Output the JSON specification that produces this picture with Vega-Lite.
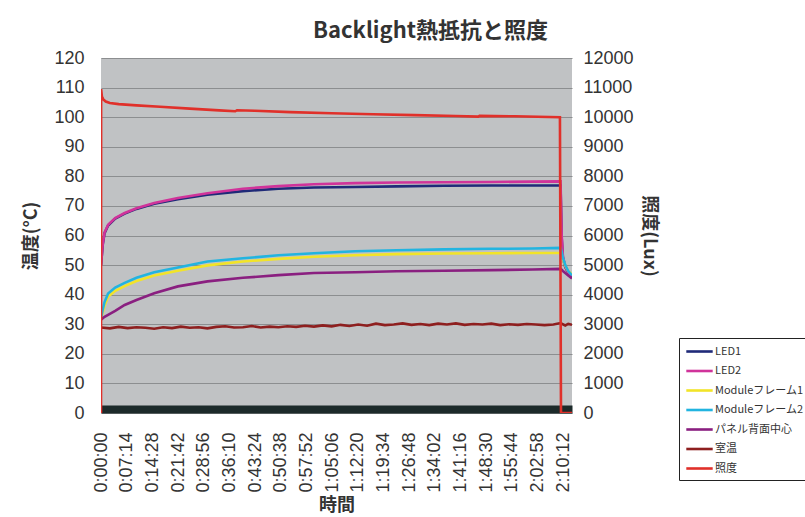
{
  "$schema": "https://vega.github.io/schema/vega-lite/v6.json",
  "width": 471,
  "height": 355,
  "autosize": {"type": "none"},
  "padding": {"left": 101, "top": 58, "right": 233, "bottom": 104},
  "background": "#ffffff",
  "title": {
    "text": "Backlight熱抵抗と照度",
    "font": "Noto Sans CJK JP",
    "fontSize": 22,
    "fontWeight": "bold",
    "color": "#333333",
    "anchor": "middle",
    "dx": 94,
    "offset": 6
  },
  "config": {
    "view": {"fill": "#c0c2c4", "stroke": null},
    "axis": {
      "labelFont": "Liberation Sans",
      "labelFontSize": 18,
      "labelColor": "#333333",
      "titleFont": "Noto Sans CJK JP",
      "titleFontSize": 18,
      "titleFontWeight": "bold",
      "titleColor": "#333333",
      "ticks": false
    },
    "line": {"strokeWidth": 2.6}
  },
  "datasets": {
    "temps": [
      {"t": 0, "series": "LED1", "value": 50},
      {"t": 30, "series": "LED1", "value": 57},
      {"t": 60, "series": "LED1", "value": 60.8},
      {"t": 120, "series": "LED1", "value": 63.4},
      {"t": 240, "series": "LED1", "value": 65.7},
      {"t": 400, "series": "LED1", "value": 67.4},
      {"t": 600, "series": "LED1", "value": 69.0},
      {"t": 900, "series": "LED1", "value": 70.7},
      {"t": 1300, "series": "LED1", "value": 72.3},
      {"t": 1800, "series": "LED1", "value": 73.8},
      {"t": 2400, "series": "LED1", "value": 75.0},
      {"t": 3000, "series": "LED1", "value": 75.8},
      {"t": 3600, "series": "LED1", "value": 76.2},
      {"t": 4300, "series": "LED1", "value": 76.4},
      {"t": 5000, "series": "LED1", "value": 76.6},
      {"t": 5800, "series": "LED1", "value": 76.8},
      {"t": 6600, "series": "LED1", "value": 76.9},
      {"t": 7300, "series": "LED1", "value": 76.9},
      {"t": 7770, "series": "LED1", "value": 76.9},
      {"t": 7790, "series": "LED1", "value": 59},
      {"t": 7810, "series": "LED1", "value": 52.5},
      {"t": 7850, "series": "LED1", "value": 49.3},
      {"t": 7900, "series": "LED1", "value": 47.4},
      {"t": 7964, "series": "LED1", "value": 46},
      {"t": 0, "series": "LED2", "value": 50},
      {"t": 30, "series": "LED2", "value": 57.2},
      {"t": 60, "series": "LED2", "value": 61},
      {"t": 120, "series": "LED2", "value": 63.6},
      {"t": 240, "series": "LED2", "value": 65.9},
      {"t": 400, "series": "LED2", "value": 67.6},
      {"t": 600, "series": "LED2", "value": 69.2},
      {"t": 900, "series": "LED2", "value": 71.0},
      {"t": 1300, "series": "LED2", "value": 72.7},
      {"t": 1800, "series": "LED2", "value": 74.3},
      {"t": 2400, "series": "LED2", "value": 75.8},
      {"t": 3000, "series": "LED2", "value": 76.7},
      {"t": 3600, "series": "LED2", "value": 77.3},
      {"t": 4300, "series": "LED2", "value": 77.7},
      {"t": 5000, "series": "LED2", "value": 77.9},
      {"t": 5800, "series": "LED2", "value": 78.0},
      {"t": 6600, "series": "LED2", "value": 78.1},
      {"t": 7300, "series": "LED2", "value": 78.2},
      {"t": 7770, "series": "LED2", "value": 78.3},
      {"t": 7790, "series": "LED2", "value": 60},
      {"t": 7810, "series": "LED2", "value": 53},
      {"t": 7850, "series": "LED2", "value": 49.5},
      {"t": 7900, "series": "LED2", "value": 47.5},
      {"t": 7964, "series": "LED2", "value": 46.2},
      {"t": 0, "series": "Moduleフレーム1", "value": 32},
      {"t": 30, "series": "Moduleフレーム1", "value": 34},
      {"t": 60, "series": "Moduleフレーム1", "value": 36.3},
      {"t": 120, "series": "Moduleフレーム1", "value": 39.3},
      {"t": 240, "series": "Moduleフレーム1", "value": 41.3},
      {"t": 400, "series": "Moduleフレーム1", "value": 42.9},
      {"t": 600, "series": "Moduleフレーム1", "value": 44.6},
      {"t": 900, "series": "Moduleフレーム1", "value": 46.5},
      {"t": 1300, "series": "Moduleフレーム1", "value": 48.1},
      {"t": 1800, "series": "Moduleフレーム1", "value": 49.9},
      {"t": 2400, "series": "Moduleフレーム1", "value": 51.2},
      {"t": 3000, "series": "Moduleフレーム1", "value": 52.1},
      {"t": 3600, "series": "Moduleフレーム1", "value": 52.8},
      {"t": 4300, "series": "Moduleフレーム1", "value": 53.3},
      {"t": 5000, "series": "Moduleフレーム1", "value": 53.7},
      {"t": 5800, "series": "Moduleフレーム1", "value": 53.9},
      {"t": 6600, "series": "Moduleフレーム1", "value": 54.0},
      {"t": 7300, "series": "Moduleフレーム1", "value": 54.1},
      {"t": 7770, "series": "Moduleフレーム1", "value": 54.1},
      {"t": 7790, "series": "Moduleフレーム1", "value": 53.5},
      {"t": 7810, "series": "Moduleフレーム1", "value": 52},
      {"t": 7850, "series": "Moduleフレーム1", "value": 49.8},
      {"t": 7900, "series": "Moduleフレーム1", "value": 48},
      {"t": 7964, "series": "Moduleフレーム1", "value": 46.8},
      {"t": 0, "series": "Moduleフレーム2", "value": 32},
      {"t": 30, "series": "Moduleフレーム2", "value": 35},
      {"t": 60, "series": "Moduleフレーム2", "value": 37.5},
      {"t": 120, "series": "Moduleフレーム2", "value": 40.4},
      {"t": 240, "series": "Moduleフレーム2", "value": 42.4},
      {"t": 400, "series": "Moduleフレーム2", "value": 44.0},
      {"t": 600, "series": "Moduleフレーム2", "value": 45.7},
      {"t": 900, "series": "Moduleフレーム2", "value": 47.6},
      {"t": 1300, "series": "Moduleフレーム2", "value": 49.2},
      {"t": 1800, "series": "Moduleフレーム2", "value": 51.2},
      {"t": 2400, "series": "Moduleフレーム2", "value": 52.3},
      {"t": 3000, "series": "Moduleフレーム2", "value": 53.3},
      {"t": 3600, "series": "Moduleフレーム2", "value": 54.0},
      {"t": 4300, "series": "Moduleフレーム2", "value": 54.7},
      {"t": 5000, "series": "Moduleフレーム2", "value": 55.0},
      {"t": 5800, "series": "Moduleフレーム2", "value": 55.3},
      {"t": 6600, "series": "Moduleフレーム2", "value": 55.5},
      {"t": 7300, "series": "Moduleフレーム2", "value": 55.6},
      {"t": 7770, "series": "Moduleフレーム2", "value": 55.8},
      {"t": 7790, "series": "Moduleフレーム2", "value": 54.5},
      {"t": 7810, "series": "Moduleフレーム2", "value": 52.5},
      {"t": 7850, "series": "Moduleフレーム2", "value": 50},
      {"t": 7900, "series": "Moduleフレーム2", "value": 48},
      {"t": 7964, "series": "Moduleフレーム2", "value": 46.5},
      {"t": 0, "series": "パネル背面中心", "value": 31.5},
      {"t": 30, "series": "パネル背面中心", "value": 32},
      {"t": 60, "series": "パネル背面中心", "value": 32.5},
      {"t": 120, "series": "パネル背面中心", "value": 33.2},
      {"t": 240, "series": "パネル背面中心", "value": 34.5},
      {"t": 400, "series": "パネル背面中心", "value": 36.5},
      {"t": 600, "series": "パネル背面中心", "value": 38.2},
      {"t": 900, "series": "パネル背面中心", "value": 40.5},
      {"t": 1300, "series": "パネル背面中心", "value": 42.8},
      {"t": 1800, "series": "パネル背面中心", "value": 44.5},
      {"t": 2400, "series": "パネル背面中心", "value": 45.7},
      {"t": 3000, "series": "パネル背面中心", "value": 46.6},
      {"t": 3600, "series": "パネル背面中心", "value": 47.3},
      {"t": 4300, "series": "パネル背面中心", "value": 47.6},
      {"t": 5000, "series": "パネル背面中心", "value": 47.9},
      {"t": 5800, "series": "パネル背面中心", "value": 48.1},
      {"t": 6600, "series": "パネル背面中心", "value": 48.3},
      {"t": 7300, "series": "パネル背面中心", "value": 48.5},
      {"t": 7770, "series": "パネル背面中心", "value": 48.7},
      {"t": 7790, "series": "パネル背面中心", "value": 48.4},
      {"t": 7810, "series": "パネル背面中心", "value": 48},
      {"t": 7850, "series": "パネル背面中心", "value": 47.3},
      {"t": 7900, "series": "パネル背面中心", "value": 46.5},
      {"t": 7964, "series": "パネル背面中心", "value": 45.5},
      {"t": 0, "series": "室温", "value": 28.9},
      {"t": 150, "series": "室温", "value": 28.6},
      {"t": 300, "series": "室温", "value": 29.1},
      {"t": 450, "series": "室温", "value": 28.7},
      {"t": 600, "series": "室温", "value": 29.0},
      {"t": 750, "series": "室温", "value": 28.8},
      {"t": 900, "series": "室温", "value": 28.5},
      {"t": 1050, "series": "室温", "value": 29.0},
      {"t": 1200, "series": "室温", "value": 28.7},
      {"t": 1350, "series": "室温", "value": 29.2},
      {"t": 1500, "series": "室温", "value": 28.8},
      {"t": 1650, "series": "室温", "value": 29.0},
      {"t": 1800, "series": "室温", "value": 28.6},
      {"t": 1950, "series": "室温", "value": 29.1},
      {"t": 2100, "series": "室温", "value": 29.3},
      {"t": 2250, "series": "室温", "value": 28.9},
      {"t": 2400, "series": "室温", "value": 29.0},
      {"t": 2550, "series": "室温", "value": 29.4},
      {"t": 2700, "series": "室温", "value": 28.9},
      {"t": 2850, "series": "室温", "value": 29.2},
      {"t": 3000, "series": "室温", "value": 29.0},
      {"t": 3150, "series": "室温", "value": 29.3},
      {"t": 3300, "series": "室温", "value": 29.1},
      {"t": 3450, "series": "室温", "value": 29.5},
      {"t": 3600, "series": "室温", "value": 29.2},
      {"t": 3750, "series": "室温", "value": 29.6},
      {"t": 3900, "series": "室温", "value": 29.3},
      {"t": 4050, "series": "室温", "value": 29.8},
      {"t": 4200, "series": "室温", "value": 29.4},
      {"t": 4350, "series": "室温", "value": 29.9},
      {"t": 4500, "series": "室温", "value": 29.5},
      {"t": 4650, "series": "室温", "value": 30.2},
      {"t": 4800, "series": "室温", "value": 29.7},
      {"t": 4950, "series": "室温", "value": 29.9},
      {"t": 5100, "series": "室温", "value": 30.3},
      {"t": 5250, "series": "室温", "value": 29.8},
      {"t": 5400, "series": "室温", "value": 30.1},
      {"t": 5550, "series": "室温", "value": 29.7},
      {"t": 5700, "series": "室温", "value": 30.2},
      {"t": 5850, "series": "室温", "value": 29.9},
      {"t": 6000, "series": "室温", "value": 30.3},
      {"t": 6150, "series": "室温", "value": 29.8},
      {"t": 6300, "series": "室温", "value": 30.1},
      {"t": 6450, "series": "室温", "value": 29.9},
      {"t": 6600, "series": "室温", "value": 30.2},
      {"t": 6750, "series": "室温", "value": 29.7},
      {"t": 6900, "series": "室温", "value": 30.0},
      {"t": 7050, "series": "室温", "value": 29.8},
      {"t": 7200, "series": "室温", "value": 30.1},
      {"t": 7350, "series": "室温", "value": 29.9},
      {"t": 7500, "series": "室温", "value": 29.7},
      {"t": 7650, "series": "室温", "value": 29.9},
      {"t": 7770, "series": "室温", "value": 30.4},
      {"t": 7850, "series": "室温", "value": 29.6},
      {"t": 7900, "series": "室温", "value": 30.1},
      {"t": 7964, "series": "室温", "value": 29.8}
    ],
    "lux": [
      {"t": 0, "series": "照度", "lux": 0},
      {"t": 2, "series": "照度", "lux": 10950},
      {"t": 15, "series": "照度", "lux": 10700},
      {"t": 40, "series": "照度", "lux": 10600},
      {"t": 80, "series": "照度", "lux": 10530},
      {"t": 150, "series": "照度", "lux": 10480},
      {"t": 300, "series": "照度", "lux": 10440},
      {"t": 600, "series": "照度", "lux": 10400},
      {"t": 1000, "series": "照度", "lux": 10350},
      {"t": 1500, "series": "照度", "lux": 10290},
      {"t": 2000, "series": "照度", "lux": 10230},
      {"t": 2270, "series": "照度", "lux": 10200},
      {"t": 2300, "series": "照度", "lux": 10235},
      {"t": 2600, "series": "照度", "lux": 10215},
      {"t": 3200, "series": "照度", "lux": 10170},
      {"t": 3900, "series": "照度", "lux": 10130},
      {"t": 4600, "series": "照度", "lux": 10100},
      {"t": 5300, "series": "照度", "lux": 10070},
      {"t": 6000, "series": "照度", "lux": 10040},
      {"t": 6380, "series": "照度", "lux": 10020},
      {"t": 6400, "series": "照度", "lux": 10045},
      {"t": 7000, "series": "照度", "lux": 10030},
      {"t": 7760, "series": "照度", "lux": 10000},
      {"t": 7778, "series": "照度", "lux": 0},
      {"t": 7964, "series": "照度", "lux": 0}
    ]
  },
  "encoding": {
    "x": {
      "field": "t",
      "type": "quantitative",
      "scale": {"domain": [0, 7964], "nice": false, "zero": false},
      "axis": {
        "title": "時間",
        "values": [0, 434, 868, 1302, 1736, 2170, 2604, 3038, 3472, 3906, 4340, 4774, 5208, 5642, 6076, 6510, 6944, 7378, 7812],
        "labelExpr": "utcFormat(datum.value * 1000, '%-H:%M:%S')",
        "labelAngle": 270,
        "labelOverlap": false,
        "labelBound": false,
        "labelFlush": false,
        "labelSeparation": 0,
        "offset": -4,
        "labelPadding": 23,
        "titlePadding": 4,
        "grid": false,
        "domain": true,
        "domainColor": "#1c2a2a",
        "domainWidth": 8
      }
    },
    "color": {
      "field": "series",
      "type": "nominal",
      "scale": {
        "domain": ["LED1", "LED2", "Moduleフレーム1", "Moduleフレーム2", "パネル背面中心", "室温", "照度"],
        "range": ["#1f2a78", "#d0339a", "#f2e428", "#22b4e0", "#8a1f80", "#8e1f1f", "#e0302a"]
      },
      "legend": {
        "title": null,
        "orient": "none",
        "legendX": 578,
        "legendY": 280,
        "fillColor": "#ffffff",
        "strokeColor": "#222222",
        "padding": 6,
        "symbolType": "M-2.2,0H2.2",
        "symbolSize": 144,
        "symbolStrokeWidth": 2,
        "symbolOffset": 7,
        "labelFont": "Noto Sans CJK JP",
        "labelFontSize": 11,
        "labelColor": "#333333",
        "rowPadding": 6.5,
        "labelOffset": 8
      }
    }
  },
  "layer": [
    {
      "data": {"name": "temps"},
      "mark": {"type": "line", "clip": true},
      "encoding": {
        "y": {
          "field": "value",
          "type": "quantitative",
          "scale": {"domain": [0, 120], "nice": false},
          "axis": {
            "title": "温度(°C)",
            "orient": "left",
            "values": [0, 10, 20, 30, 40, 50, 60, 70, 80, 90, 100, 110, 120],
            "labelPadding": 17,
            "titlePadding": 13,
            "domain": false,
            "grid": true,
            "gridColor": "#8c8e90",
            "gridWidth": 1
          }
        }
      }
    },
    {
      "data": {"name": "lux"},
      "mark": {"type": "line", "clip": true},
      "encoding": {
        "y": {
          "field": "lux",
          "type": "quantitative",
          "scale": {"domain": [0, 12000], "nice": false},
          "axis": {
            "title": "照度(Lux)",
            "orient": "right",
            "values": [0, 1000, 2000, 3000, 4000, 5000, 6000, 7000, 8000, 9000, 10000, 11000, 12000],
            "format": "d",
            "labelPadding": 11,
            "titlePadding": 6,
            "titleAngle": 90,
            "domain": false,
            "grid": false
          }
        }
      }
    }
  ],
  "resolve": {"scale": {"y": "independent"}}
}
